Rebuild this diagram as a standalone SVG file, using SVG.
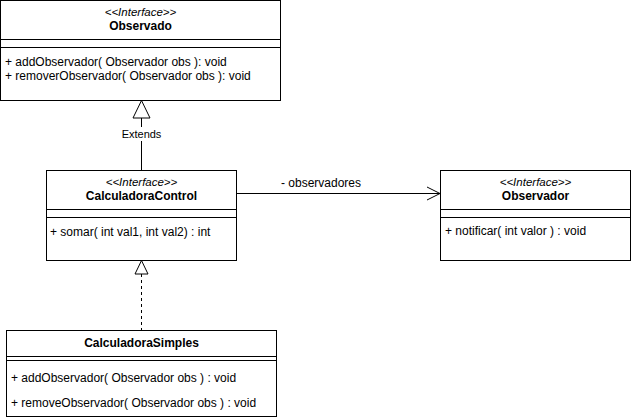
<svg xmlns="http://www.w3.org/2000/svg" width="631" height="420" viewBox="0 0 631 420">
<style>
.box{fill:#fff;stroke:#000;stroke-width:1}
.sep{stroke:#000;stroke-width:1;fill:none}
.st{font-family:"Liberation Sans",Arial,sans-serif;font-size:11.5px;font-style:italic;text-anchor:middle}
.ti{font-family:"Liberation Sans",Arial,sans-serif;font-size:12px;font-weight:bold;text-anchor:middle}
.m{font-family:"Liberation Sans",Arial,sans-serif;font-size:12px}
.lbl{font-family:"Liberation Sans",Arial,sans-serif;font-size:11px;text-anchor:middle}
.al{font-family:"Liberation Sans",Arial,sans-serif;font-size:12px;text-anchor:middle}
.ln{stroke:#000;stroke-width:1;fill:none}
.tri{fill:#fff;stroke:#000;stroke-width:1}
</style>
<rect width="631" height="420" fill="#fff"/>
<g id="connectors">
<line class="ln" x1="141.5" y1="118" x2="141.5" y2="127"/>
<line class="ln" x1="141.5" y1="141" x2="141.5" y2="170"/>
<polygon class="tri" points="141.5,100.5 133,118 150,118"/>
<text class="lbl" x="141.5" y="138">Extends</text>
<line class="ln" x1="141.5" y1="274" x2="141.5" y2="330.5" stroke-dasharray="3,3"/>
<polygon class="tri" points="141.5,260.5 135,274 148,274"/>
<line class="ln" x1="236" y1="193.5" x2="440" y2="193.5"/>
<polyline class="ln" points="427,187 440,193.5 427,200"/>
<text class="al" x="321" y="187">- observadores</text>
</g>
<g id="Observado">
<rect class="box" x="0.5" y="0.5" width="280" height="100"/>
<line class="sep" x1="0.5" y1="39.5" x2="280.5" y2="39.5"/>
<line class="sep" x1="0.5" y1="47.5" x2="280.5" y2="47.5"/>
<text class="st" x="140.5" y="16">&lt;&lt;Interface&gt;&gt;</text>
<text class="ti" x="140.5" y="30">Observado</text>
<text class="m" x="5" y="66">+ addObservador( Observador obs ): void</text>
<text class="m" x="5" y="80">+ removerObservador( Observador obs ): void</text>
</g>
<g id="CalculadoraControl">
<rect class="box" x="46.5" y="170.5" width="190" height="90"/>
<line class="sep" x1="46.5" y1="209.5" x2="236.5" y2="209.5"/>
<line class="sep" x1="46.5" y1="217.5" x2="236.5" y2="217.5"/>
<text class="st" x="141.5" y="186">&lt;&lt;Interface&gt;&gt;</text>
<text class="ti" x="141.5" y="200">CalculadoraControl</text>
<text class="m" x="50" y="236">+ somar( int val1, int val2) : int</text>
</g>
<g id="Observador">
<rect class="box" x="440.5" y="170.5" width="190" height="90"/>
<line class="sep" x1="440.5" y1="209.5" x2="630.5" y2="209.5"/>
<line class="sep" x1="440.5" y1="217.5" x2="630.5" y2="217.5"/>
<text class="st" x="535.5" y="186">&lt;&lt;Interface&gt;&gt;</text>
<text class="ti" x="535.5" y="200">Observador</text>
<text class="m" x="445" y="235">+ notificar( int valor ) : void</text>
</g>
<g id="CalculadoraSimples">
<rect class="box" x="6.5" y="330.5" width="270" height="86"/>
<line class="sep" x1="6.5" y1="356.5" x2="276.5" y2="356.5"/>
<line class="sep" x1="6.5" y1="360.5" x2="276.5" y2="360.5"/>
<text class="ti" x="141.5" y="347">CalculadoraSimples</text>
<text class="m" x="11" y="382">+ addObservador( Observador obs ) : void</text>
<text class="m" x="11" y="407">+ removeObservador( Observador obs ) : void</text>
</g>
</svg>
